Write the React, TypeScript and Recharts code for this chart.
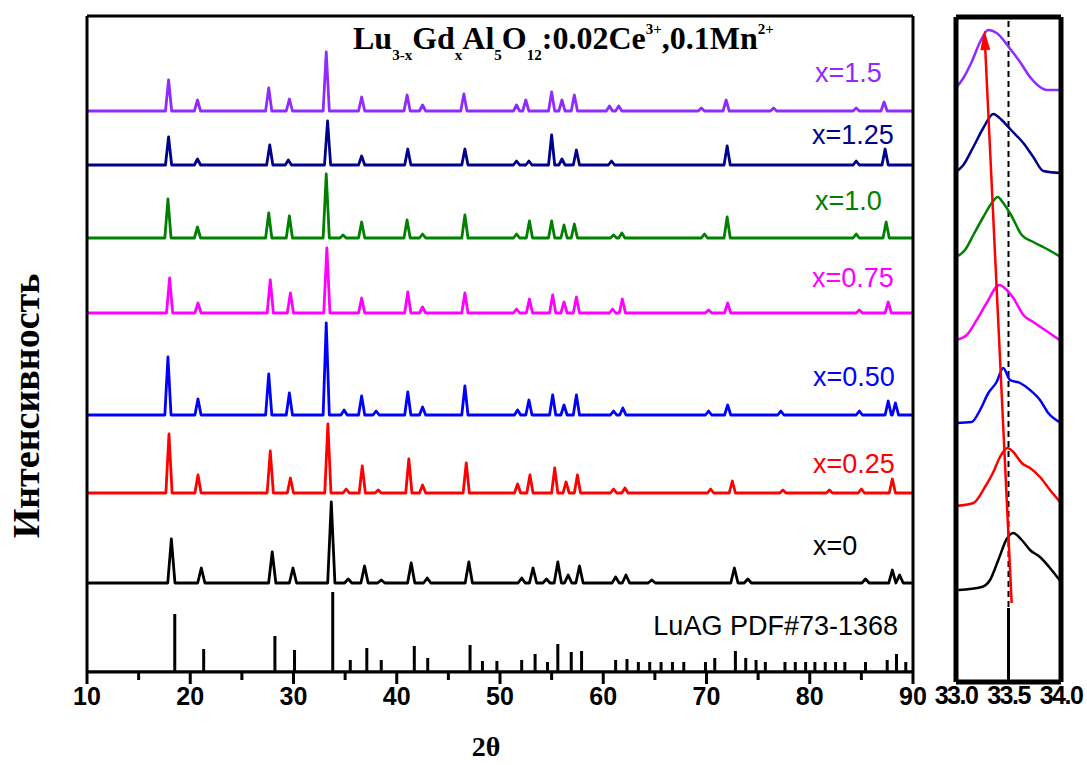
import { LineChart, Line, XAxis, YAxis, ReferenceLine } from "recharts";

const SANS = "'Liberation Sans', Arial, sans-serif";
const SERIF = "'Liberation Serif', 'Times New Roman', serif";

// main panel: intensity values are offsets in the stacked plot (0..656)
const MAIN_TICKS = [10, 15, 20, 25, 30, 35, 40, 45, 50, 55, 60, 65, 70, 75, 80, 85, 90];

// [2θ, height] reference sticks, LuAG PDF#73-1368
const STICKS = [
  [18.5, 58], [21.3, 23], [28.2, 36], [30.1, 22], [33.8, 80], [35.5, 12], [37.1, 24],
  [38.5, 12], [41.7, 26], [43.0, 14], [47.1, 27], [48.3, 11], [49.7, 11], [52.1, 12],
  [53.4, 18], [54.6, 10], [55.6, 28], [56.9, 20], [57.9, 21], [61.2, 12], [62.3, 13],
  [63.4, 10], [64.5, 10], [65.6, 10], [66.7, 10], [67.8, 10], [69.9, 10], [70.8, 14],
  [72.8, 21], [73.8, 14], [74.8, 12], [75.7, 10], [77.6, 10], [78.6, 10], [79.6, 10],
  [80.5, 10], [81.5, 10], [82.5, 10], [83.4, 10], [85.4, 10], [87.5, 12], [88.4, 18],
  [89.3, 10],
];

// baselines of the stacked patterns
const BASE_X0 = 89;
const BASE_X025 = 179;
const BASE_X050 = 257;
const BASE_X075 = 359;
const BASE_X100 = 434;
const BASE_X125 = 507;
const BASE_X150 = 561;

// [2θ, peak height above baseline]
const PEAKS_X0 = [
  [18.17, 44], [21.07, 15], [27.94, 31], [29.95, 15], [33.66, 81], [35.3, 4], [36.88, 17],
  [38.5, 3], [41.4, 20], [42.95, 5], [46.98, 21], [52.1, 5], [53.2, 15], [54.5, 4],
  [55.6, 21], [56.6, 8], [57.7, 17], [61.2, 6], [62.2, 8], [64.7, 3], [72.7, 15], [74.0, 4],
  [85.4, 4], [88.0, 13], [88.7, 8],
];
const PEAKS_X025 = [
  [17.94, 59], [20.75, 18], [27.75, 42], [29.7, 15], [33.33, 69], [35.1, 4], [36.66, 27],
  [38.2, 3], [41.17, 34], [42.5, 8], [46.73, 30], [51.7, 9], [52.9, 18], [55.3, 25],
  [56.4, 11], [57.5, 18], [61.0, 4], [62.1, 5], [70.4, 4], [72.5, 12], [77.4, 3], [81.9, 3],
  [85.0, 4], [88.0, 14],
];
const PEAKS_X050 = [
  [17.84, 58], [20.75, 16], [27.6, 41], [29.6, 22], [33.17, 92], [34.9, 5], [36.6, 19],
  [38.0, 4], [41.07, 23], [42.5, 8], [46.6, 29], [51.7, 5], [52.8, 15], [55.1, 20],
  [56.2, 10], [57.4, 20], [61.0, 4], [61.9, 7], [70.2, 4], [72.05, 10], [77.2, 4], [84.8, 4],
  [87.6, 14], [88.3, 12],
];
const PEAKS_X075 = [
  [18.0, 35], [20.75, 10], [27.75, 33], [29.7, 20], [33.23, 65], [36.6, 15], [41.07, 21],
  [42.5, 6], [46.6, 20], [51.6, 4], [52.85, 14], [55.1, 18], [56.2, 11], [57.4, 16],
  [60.9, 4], [61.85, 14], [70.2, 3], [72.05, 10], [84.8, 3], [87.6, 11],
];
const PEAKS_X100 = [
  [17.84, 39], [20.7, 11], [27.6, 25], [29.6, 22], [33.17, 64], [34.8, 3], [36.6, 16],
  [41.0, 18], [42.5, 4], [46.6, 23], [51.6, 4], [52.85, 17], [55.0, 17], [56.2, 13],
  [57.2, 14], [61.0, 3], [61.8, 5], [69.8, 4], [72.0, 21], [84.5, 4], [87.4, 16],
];
const PEAKS_X125 = [
  [17.9, 28], [20.7, 6], [27.7, 20], [29.5, 5], [33.3, 44], [36.6, 9], [41.07, 16],
  [46.6, 16], [51.6, 4], [52.8, 4], [55.0, 30], [56.0, 6], [57.4, 15], [60.8, 4],
  [72.0, 19], [84.5, 4], [87.3, 16],
];
const PEAKS_X150 = [
  [17.9, 31], [20.7, 11], [27.6, 23], [29.6, 12], [33.17, 59], [36.6, 14], [41.0, 16],
  [42.5, 6], [46.5, 17], [51.6, 6], [52.5, 11], [55.0, 19], [56.0, 11], [57.2, 16],
  [60.6, 5], [61.5, 5], [69.5, 3], [71.9, 11], [76.5, 3], [84.5, 3], [87.2, 9],
];

// inset: 33-34° window, [2θ, intensity] (0..665)
const INSET_X150 = [
  [33.0, 594], [33.07, 604], [33.149, 620], [33.229, 640], [33.308, 652], [33.387, 649],
  [33.524, 632], [33.61, 620], [33.705, 605], [33.8, 595], [33.864, 592], [34.0, 592],
];
const INSET_X125 = [
  [33.0, 510], [33.07, 517], [33.165, 535], [33.26, 554], [33.355, 568], [33.435, 562],
  [33.524, 552], [33.641, 539], [33.736, 525], [33.832, 511], [34.0, 509],
];
const INSET_X100 = [
  [33.0, 425], [33.086, 432], [33.165, 447], [33.26, 465], [33.34, 479], [33.397, 485],
  [33.45, 479], [33.524, 467], [33.626, 447], [33.736, 440], [33.848, 434], [34.0, 425],
];
const INSET_X075 = [
  [33.0, 342], [33.102, 347], [33.197, 362], [33.292, 379], [33.413, 397], [33.483, 392],
  [33.546, 384], [33.641, 367], [33.736, 360], [33.848, 352], [34.0, 341],
];
const INSET_X050 = [
  [33.0, 259], [33.149, 260], [33.229, 272], [33.308, 289], [33.387, 300], [33.45, 314],
  [33.514, 302], [33.61, 299], [33.705, 292], [33.8, 282], [33.879, 269], [34.0, 259],
];
const INSET_X025 = [
  [33.0, 176], [33.165, 179], [33.276, 195], [33.356, 210], [33.419, 225], [33.489, 234],
  [33.546, 230], [33.626, 219], [33.705, 214], [33.8, 205], [33.895, 192], [34.0, 179],
];
const INSET_X0 = [
  [33.022, 92], [33.245, 95], [33.324, 102], [33.403, 122], [33.483, 143], [33.546, 149],
  [33.626, 142], [33.705, 132], [33.8, 125], [33.895, 114], [34.0, 100],
];

const SERIES = [
  { key: "x0", color: "#000000", base: BASE_X0, peaks: PEAKS_X0, inset: INSET_X0 },
  { key: "x025", color: "#ff0000", base: BASE_X025, peaks: PEAKS_X025, inset: INSET_X025 },
  { key: "x050", color: "#0000ff", base: BASE_X050, peaks: PEAKS_X050, inset: INSET_X050 },
  { key: "x075", color: "#ff00ff", base: BASE_X075, peaks: PEAKS_X075, inset: INSET_X075 },
  { key: "x100", color: "#008000", base: BASE_X100, peaks: PEAKS_X100, inset: INSET_X100 },
  { key: "x125", color: "#00008b", base: BASE_X125, peaks: PEAKS_X125, inset: INSET_X125 },
  { key: "x150", color: "#8f2bff", base: BASE_X150, peaks: PEAKS_X150, inset: INSET_X150 },
];

function trace(base: number, peaks: number[][], hw = 0.3) {
  const pts = [{ x: 10, y: base }];
  for (const [p, h] of peaks) {
    pts.push({ x: p - hw, y: base }, { x: p, y: base + h }, { x: p + hw, y: base });
  }
  pts.push({ x: 90, y: base });
  return pts;
}

function stickTrace(sticks: number[][]) {
  const pts = [{ x: 10, y: 0 }];
  for (const [p, h] of sticks) {
    pts.push({ x: p, y: 0 }, { x: p, y: h }, { x: p, y: 0 });
  }
  pts.push({ x: 90, y: 0 });
  return pts;
}

function MainTick({ x, y, payload }: any) {
  const v = payload.value;
  const major = v % 10 === 0;
  return (
    <g>
      <line x1={x} x2={x} y1={y} y2={y + (major ? 12 : 8)} stroke="#000" strokeWidth={3} />
      {major && (
        <text x={x} y={y + 33} textAnchor="middle" fontFamily={SANS} fontWeight="bold" fontSize={25} fill="#000">
          {v}
        </text>
      )}
    </g>
  );
}

function InsetTick({ x, y, payload }: any) {
  return (
    <text x={x} y={y + 22} textAnchor="middle" fontFamily={SANS} fontWeight="bold" fontSize={25}
      letterSpacing={-1.5} fill="#000">
      {payload.value.toFixed(1)}
    </text>
  );
}

function Arrow(props: any) {
  const { x1, y1, x2, y2 } = props;
  const ang = Math.atan2(y2 - y1, x2 - x1);
  const len = 20;
  const w = 5;
  const bx = x2 - len * Math.cos(ang);
  const by = y2 - len * Math.sin(ang);
  const px = -Math.sin(ang) * w;
  const py = Math.cos(ang) * w;
  return (
    <g>
      <line x1={x1} y1={y1} x2={bx} y2={by} stroke="#ff0000" strokeWidth={2.5} />
      <polygon points={`${x2},${y2} ${bx + px},${by + py} ${bx - px},${by - py}`} fill="#ff0000" />
    </g>
  );
}

const frame = { stroke: "#000", strokeWidth: 3 };
const thick = { stroke: "#000", strokeWidth: 5 };

export default function App() {
  return (
    <div style={{ position: "absolute", left: 0, top: 0, width: 1087, height: 765, background: "#fff", overflow: "hidden" }}>
      <div style={{ position: "absolute", left: 0, top: 0 }}>
        <LineChart width={1087} height={765} margin={{ top: 15, left: 86, right: 173, bottom: 33 }}>
          <XAxis type="number" dataKey="x" domain={[10, 90]} ticks={MAIN_TICKS} interval={0}
            height={60} tickSize={0} tickMargin={0} tickLine={false} axisLine={frame} tick={MainTick} allowDataOverflow />
          <XAxis xAxisId="t" orientation="top" type="number" domain={[10, 90]} height={1} tick={false} tickLine={false} axisLine={frame} />
          <YAxis type="number" domain={[0, 656]} width={1} tick={false} tickLine={false} axisLine={frame} allowDataOverflow />
          <YAxis yAxisId="r" orientation="right" type="number" domain={[0, 656]} width={1} tick={false} tickLine={false} axisLine={frame} />
          <Line data={stickTrace(STICKS)} dataKey="y" type="linear" stroke="#000" strokeWidth={3} dot={false} isAnimationActive={false} />
          {SERIES.map((s) => (
            <Line key={s.key} data={trace(s.base, s.peaks, s.key === "x0" ? 0.35 : 0.3)} dataKey="y" type="linear"
              stroke={s.color} strokeWidth={2.8} strokeLinejoin="round" dot={false} isAnimationActive={false} />
          ))}
        </LineChart>
      </div>
      <div style={{ position: "absolute", left: 0, top: 0 }}>
        <LineChart width={1087} height={765} margin={{ top: 16, left: 955, right: 25, bottom: 23 }}>
          <XAxis type="number" dataKey="x" domain={[33, 34]} ticks={[33, 33.5, 34]} interval={0}
            height={60} tickSize={0} tickMargin={0} tickLine={false} axisLine={thick} tick={InsetTick} allowDataOverflow />
          <XAxis xAxisId="t" orientation="top" type="number" domain={[33, 34]} height={1} tick={false} tickLine={false} axisLine={thick} />
          <YAxis type="number" domain={[0, 665]} width={1} tick={false} tickLine={false} axisLine={thick} allowDataOverflow />
          <YAxis yAxisId="r" orientation="right" type="number" domain={[0, 665]} width={1} tick={false} tickLine={false} axisLine={thick} />
          <ReferenceLine segment={[{ x: 33.5, y: 0 }, { x: 33.5, y: 74 }]} stroke="#000" strokeWidth={3} />
          <ReferenceLine segment={[{ x: 33.5, y: 75 }, { x: 33.5, y: 662 }]} stroke="#000" strokeWidth={2} strokeDasharray="6 4" />
          {SERIES.map((s) => (
            <Line key={s.key} data={s.inset.map(([x, y]) => ({ x, y }))} dataKey="y" type="monotone"
              stroke={s.color} strokeWidth={2.5} dot={false} isAnimationActive={false} />
          ))}
          <ReferenceLine segment={[{ x: 33.53, y: 79 }, { x: 33.27, y: 652 }]} shape={Arrow} />
        </LineChart>
      </div>
      <svg width={1087} height={765} style={{ position: "absolute", left: 0, top: 0, pointerEvents: "none" }}>
        <text x={353} y={49} fontFamily={SERIF} fontWeight="bold" fontSize={32} fill="#000">
          Lu<tspan fontSize={15} y={60}>3-x</tspan>
          <tspan y={49}>Gd</tspan><tspan fontSize={15} y={60}>x</tspan>
          <tspan y={49}>Al</tspan><tspan fontSize={15} y={60}>5</tspan>
          <tspan y={49}>O</tspan><tspan fontSize={15} y={60}>12</tspan>
          <tspan y={49}>:0.02Ce</tspan><tspan fontSize={15} y={34}>3+</tspan>
          <tspan y={49}>,0.1Mn</tspan><tspan fontSize={15} y={34}>2+</tspan>
        </text>
        <g fontFamily={SANS} fontSize={27}>
          <text x={815} y={82} fill="#8f2bff">x=1.5</text>
          <text x={812} y={144} fill="#00008b">x=1.25</text>
          <text x={815} y={210} fill="#008000">x=1.0</text>
          <text x={812} y={287} fill="#ff00ff">x=0.75</text>
          <text x={813} y={386} fill="#0000ff">x=0.50</text>
          <text x={813} y={473} fill="#ff0000">x=0.25</text>
          <text x={813} y={555} fill="#000">x=0</text>
          <text x={898} y={635} textAnchor="end" fill="#000">LuAG PDF#73-1368</text>
        </g>
        <text transform="translate(26,406) rotate(-90)" textAnchor="middle" dominantBaseline="central"
          fontFamily={SERIF} fontWeight="bold" fontSize={38} fill="#000">
          Интенсивность
        </text>
        <text x={486} y={756} textAnchor="middle" fontFamily={SERIF} fontWeight="bold" fontSize={28} fill="#000">
          2θ
        </text>
      </svg>
    </div>
  );
}
